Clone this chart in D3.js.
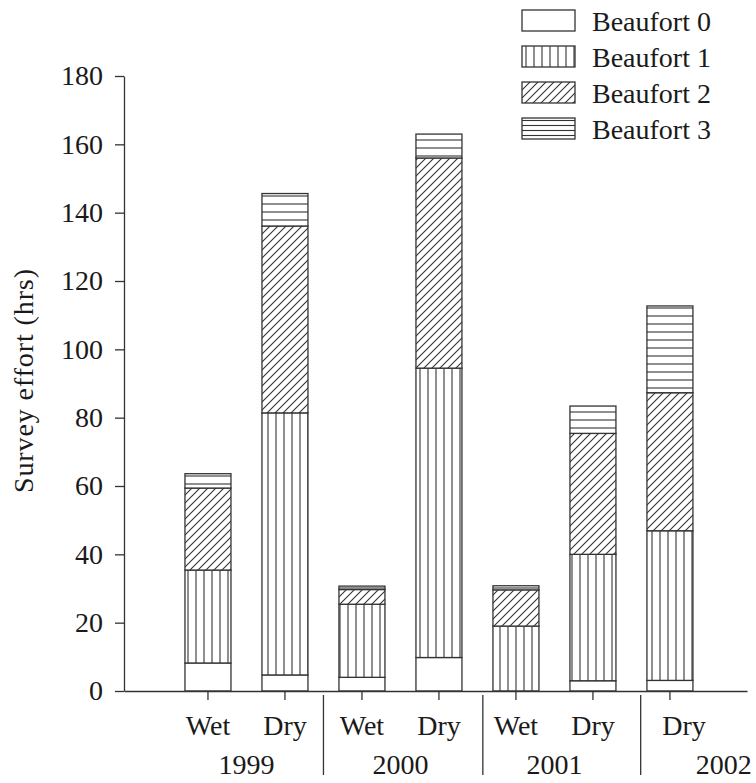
<!DOCTYPE html>
<html>
<head>
<meta charset="utf-8">
<script src="https://cdn.jsdelivr.net/npm/d3@7"></script>
<style>
  body { margin: 0; background: #fff; }
  svg text { font-family: "Liberation Serif", "Times New Roman", serif; fill: #1a1a1a; }
</style>
</head>
<body>
<svg id="chart" width="756" height="783"></svg>
<script>
// data
var categories = ["1999 Wet", "1999 Dry", "2000 Wet", "2000 Dry", "2001 Wet", "2001 Dry", "2002 Dry"];
var seasons = ["Wet", "Dry", "Wet", "Dry", "Wet", "Dry", "Dry"];
var years = ["1999", "2000", "2001", "2002"];
var yearPos = [0.5, 2.5, 4.5, 6.7];      // in category-index units
var separatorPos = [1.5, 3.57, 5.62];   // in category-index units
var seriesNames = ["Beaufort 0", "Beaufort 1", "Beaufort 2", "Beaufort 3"];
var beaufort0 = [8.2, 4.7, 4.0, 9.8, 0.0, 3.0, 3.1];
var beaufort1 = [27.2, 76.7, 21.4, 84.7, 19.0, 37.0, 43.8];
var beaufort2 = [24.0, 54.7, 4.3, 61.5, 10.6, 35.4, 40.4];
var beaufort3 = [4.2, 9.5, 1.0, 7.0, 1.2, 8.0, 25.4];
var yTicks = [0, 20, 40, 60, 80, 100, 120, 140, 160, 180];

var rows = categories.map(function (c, i) {
  return { cat: c, "Beaufort 0": beaufort0[i], "Beaufort 1": beaufort1[i],
           "Beaufort 2": beaufort2[i], "Beaufort 3": beaufort3[i] };
});

var svg = d3.select("#chart"),
    plotL = 124, plotR = 747, plotT = 76, plotB = 691,
    fs = "28px";

var x = d3.scaleBand().domain(categories).range([plotL, plotR])
    .paddingInner(0.4026).paddingOuter(0.747).align(0.53);
var xIdx = d3.scaleLinear().domain([0, 1])
    .range([x(categories[0]) + x.bandwidth() / 2, x(categories[1]) + x.bandwidth() / 2]);
var y = d3.scaleLinear().domain([0, 180]).range([plotB, plotT]);

// hatch patterns
var defs = svg.append("defs");
var ink = "#333";
function pattern(id, kind, s) {
  var p = defs.append("pattern").attr("id", id)
    .attr("patternUnits", "userSpaceOnUse").attr("width", s).attr("height", s);
  p.append("rect").attr("width", s).attr("height", s).attr("fill", "#fff");
  var d;
  if (kind == "v") d = "M" + s / 2 + ",0V" + s;
  else if (kind == "h") d = "M0," + s / 2 + "H" + s;
  else d = "M0," + s + "L" + s + ",0M" + (-s / 2) + "," + s / 2 + "L" + s / 2 + "," + (-s / 2) +
           "M" + s / 2 + "," + (s * 1.5) + "L" + (s * 1.5) + "," + s / 2;
  if (kind != "n") p.append("path").attr("d", d).attr("stroke", ink).attr("stroke-width", 1.1).attr("fill", "none");
}
pattern("p0", "n", 8); pattern("p1", "v", 8); pattern("p2", "d", 8); pattern("p3", "h", 8);
pattern("l3", "h", 5);
var fills = ["url(#p0)", "url(#p1)", "url(#p2)", "url(#p3)"];
var legendFills = ["url(#p0)", "url(#p1)", "url(#p2)", "url(#l3)"];

// stacked bars
var stacked = d3.stack().keys(seriesNames)(rows);
svg.append("g").selectAll("g")
  .data(stacked).enter().append("g")
  .attr("fill", function (d, i) { return fills[i]; })
  .selectAll("rect")
  .data(function (d) { return d; }).enter().append("rect")
  .attr("x", function (d) { return x(d.data.cat); })
  .attr("width", x.bandwidth())
  .attr("y", function (d) { return y(d[1]); })
  .attr("height", function (d) { return y(d[0]) - y(d[1]); })
  .attr("stroke", ink).attr("stroke-width", 1.3);

// y axis
var yAxis = svg.append("g")
  .attr("transform", "translate(" + plotL + ",0)")
  .call(d3.axisLeft(y).tickValues(yTicks).tickSize(9).tickSizeOuter(0).tickPadding(12));
yAxis.selectAll("text").style("font-size", fs);
yAxis.selectAll("path, line").attr("stroke", ink).attr("stroke-width", 1.3);

svg.append("text")
  .attr("transform", "translate(33,381)rotate(-90)")
  .attr("text-anchor", "middle")
  .attr("textLength", 224)
  .style("font-size", fs)
  .text("Survey effort (hrs)");

// x axis
var xAxis = svg.append("g")
  .attr("transform", "translate(0," + plotB + ")")
  .call(d3.axisBottom(x).tickSize(9).tickSizeOuter(0).tickPadding(15)
    .tickFormat(function (d, i) { return seasons[i]; }));
xAxis.selectAll("text").style("font-size", fs)
  .attr("dx", function (d, i) { return i == categories.length - 1 ? 14 : 0; });
xAxis.selectAll("path, line").attr("stroke", ink).attr("stroke-width", 1.3);

svg.append("g").selectAll("line")
  .data(separatorPos).enter().append("line")
  .attr("x1", function (d) { return xIdx(d); }).attr("x2", function (d) { return xIdx(d); })
  .attr("y1", plotB + 4).attr("y2", plotB + 84)
  .attr("stroke", ink).attr("stroke-width", 1.3);

svg.append("g").selectAll("text")
  .data(years).enter().append("text")
  .attr("x", function (d, i) { return xIdx(yearPos[i]); })
  .attr("y", plotB + 83)
  .attr("text-anchor", "middle")
  .style("font-size", fs)
  .text(function (d) { return d; });

// legend
var legend = svg.append("g").attr("transform", "translate(522,10)");
var item = legend.selectAll("g").data(seriesNames).enter().append("g")
  .attr("transform", function (d, i) { return "translate(0," + i * 36 + ")"; });
item.append("rect")
  .attr("width", 53).attr("height", 21)
  .attr("fill", function (d, i) { return legendFills[i]; })
  .attr("stroke", ink).attr("stroke-width", 1.3);
item.append("text")
  .attr("x", 70).attr("y", 21)
  .style("font-size", fs)
  .text(function (d) { return d; });
</script>
</body>
</html>
